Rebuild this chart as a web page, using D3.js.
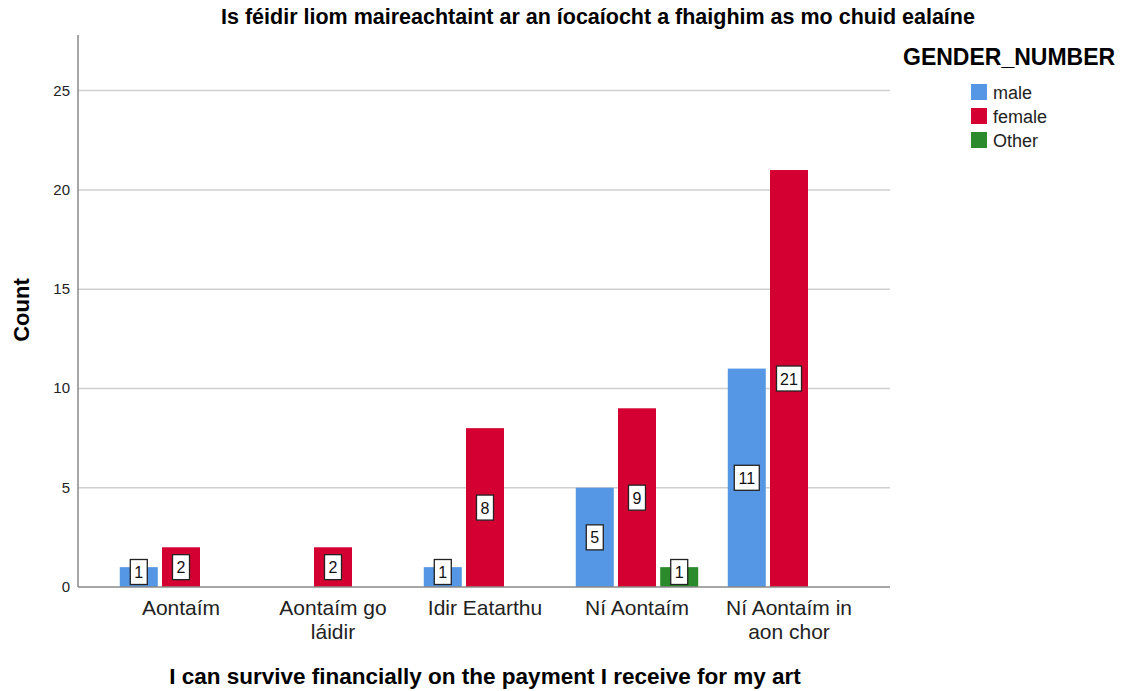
<!DOCTYPE html>
<html>
<head>
<meta charset="utf-8">
<script src="https://cdn.jsdelivr.net/npm/d3@7"></script>
<style>
  body { margin: 0; background: #fff; }
  svg { font-family: Arial, "Liberation Sans", sans-serif; }
</style>
</head>
<body>
<div id="chart"></div>
<script>
// data
var categories = ["Aontaím", "Aontaím go láidir", "Idir Eatarthu", "Ní Aontaím", "Ní Aontaím in aon chor"];
var catLines = [["Aontaím"], ["Aontaím go", "láidir"], ["Idir Eatarthu"], ["Ní Aontaím"], ["Ní Aontaím in", "aon chor"]];
var genders = ["male", "female", "Other"];
var male = [1, 0, 1, 5, 11];
var female = [2, 2, 8, 9, 21];
var other = [0, 0, 0, 1, 0];
var yTicks = [0, 5, 10, 15, 20, 25];
var colors = ["#5597e4", "#d50032", "#2b8a2b"];

var width = 1123, height = 691;
var mLeft = 78, mRight = 890, mTop = 35, mBottom = 587;

var svg = d3.select("#chart").append("svg")
    .attr("width", width)
    .attr("height", height);

var y = d3.scaleLinear().domain([0, 27.8]).range([mBottom, mTop]);
var x = d3.scaleBand().domain(categories).range([105, 865]);
var xs = d3.scaleBand().domain(genders).range([0, x.bandwidth()]).paddingInner(0.1).paddingOuter(0.35);

// gridlines
svg.append("g").selectAll("line")
    .data(yTicks.filter(function(d) { return d > 0; }))
    .enter().append("line")
    .attr("x1", mLeft).attr("x2", mRight)
    .attr("y1", function(d) { return y(d); })
    .attr("y2", function(d) { return y(d); })
    .attr("stroke", "#cfcfcf").attr("stroke-width", 1.5);

// y tick labels
svg.append("g").selectAll("text")
    .data(yTicks)
    .enter().append("text")
    .attr("x", 70)
    .attr("y", function(d) { return y(d) + 5; })
    .attr("text-anchor", "end")
    .attr("font-size", 15)
    .attr("fill", "#222")
    .text(function(d) { return d; });

// bars
var rows = [];
categories.forEach(function(c, i) {
  rows.push({cat: c, g: "male", v: male[i], k: 0});
  rows.push({cat: c, g: "female", v: female[i], k: 1});
  rows.push({cat: c, g: "Other", v: other[i], k: 2});
});
rows = rows.filter(function(d) { return d.v > 0; });

var bars = svg.append("g").selectAll("g")
    .data(rows).enter().append("g");

bars.append("rect")
    .attr("x", function(d) { return x(d.cat) + xs(d.g); })
    .attr("width", xs.bandwidth())
    .attr("y", function(d) { return y(d.v); })
    .attr("height", function(d) { return y(0) - y(d.v); })
    .attr("fill", function(d) { return colors[d.k]; });

// value labels, kept above the baseline
bars.each(function(d) {
  var g = d3.select(this);
  var cx = x(d.cat) + xs(d.g) + xs.bandwidth() / 2;
  var cy = Math.min(y(d.v / 2), mBottom - 15);
  var w = String(d.v).length > 1 ? 25 : 17;
  g.append("rect")
    .attr("x", cx - w / 2).attr("y", cy - 12.5)
    .attr("width", w).attr("height", 25)
    .attr("fill", "#fff").attr("stroke", "#222").attr("stroke-width", 1.3);
  g.append("text")
    .attr("x", cx).attr("y", cy + 6)
    .attr("text-anchor", "middle")
    .attr("font-size", 16)
    .attr("fill", "#111")
    .text(d.v);
});

// axes lines
svg.append("line").attr("x1", mLeft).attr("x2", mLeft).attr("y1", mTop).attr("y2", mBottom)
    .attr("stroke", "#888").attr("stroke-width", 1.5);
svg.append("line").attr("x1", mLeft).attr("x2", mRight).attr("y1", mBottom).attr("y2", mBottom)
    .attr("stroke", "#888").attr("stroke-width", 1.5);

// category labels
svg.append("g").selectAll("text")
    .data(categories)
    .enter().append("text")
    .attr("text-anchor", "middle")
    .attr("font-size", 21)
    .attr("fill", "#222")
    .each(function(d, i) {
      var t = d3.select(this);
      catLines[i].forEach(function(line, j) {
        t.append("tspan")
          .attr("x", x(d) + x.bandwidth() / 2)
          .attr("y", 615 + j * 24)
          .text(line);
      });
    });

// titles
svg.append("text")
    .attr("x", 598).attr("y", 24)
    .attr("text-anchor", "middle")
    .attr("font-size", 21.5).attr("font-weight", "bold")
    .text("Is féidir liom maireachtaint ar an íocaíocht a fhaighim as mo chuid ealaíne");

svg.append("text")
    .attr("x", 485).attr("y", 684)
    .attr("text-anchor", "middle")
    .attr("font-size", 22.5).attr("font-weight", "bold")
    .text("I can survive financially on the payment I receive for my art");

svg.append("text")
    .attr("transform", "translate(29,310) rotate(-90)")
    .attr("text-anchor", "middle")
    .attr("font-size", 22).attr("font-weight", "bold")
    .text("Count");

// legend
svg.append("text")
    .attr("x", 903).attr("y", 65)
    .attr("font-size", 23).attr("font-weight", "bold")
    .text("GENDER_NUMBER");

var leg = svg.append("g").selectAll("g")
    .data(genders).enter().append("g")
    .attr("transform", function(d, i) { return "translate(971," + (84 + i * 24) + ")"; });
leg.append("rect")
    .attr("width", 16).attr("height", 16)
    .attr("fill", function(d, i) { return colors[i]; });
leg.append("text")
    .attr("x", 22).attr("y", 15)
    .attr("font-size", 18)
    .attr("fill", "#222")
    .text(function(d) { return d; });
</script>
</body>
</html>
